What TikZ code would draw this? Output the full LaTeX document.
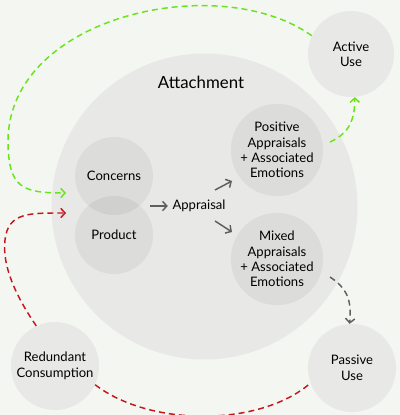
\documentclass[tikz,border=0pt]{standalone}
\usepackage{fontspec}
\setmainfont{Lato}
\usetikzlibrary{arrows.meta}
\definecolor{bgc}{RGB}{244,246,241}
\definecolor{bigc}{RGB}{232,233,230}
\definecolor{greenc}{RGB}{104,228,28}
\definecolor{redc}{RGB}{196,22,28}
\definecolor{grayc}{RGB}{95,95,95}
\tikzset{
  blob/.style={circle,fill=bigc,inner sep=0pt,minimum size=#1,align=center,
    font=\fontsize{9.8}{11.6}\selectfont},
  inblob/.style={circle,fill=black,fill opacity=0.05,text opacity=1,inner sep=0pt,
    minimum size=#1,align=center,font=\fontsize{9.8}{11.6}\selectfont},
  dashline/.style={line width=1.1pt,dash pattern=on 4.5pt off 3pt,#1},
  tip/.style={-{Straight Barb[length=3.2pt,width=7pt]}}
}
\begin{document}
\begin{tikzpicture}[x=0.75pt,y=-0.75pt]
  \fill[bgc] (0,0) rectangle (400,415);
  \useasboundingbox (0,0) rectangle (400,415);
  % circles
  \node[blob=229.5pt] (att) at (204.5,206.5) {};
  \node[font=\fontsize{12.6}{14}\selectfont] (atttitle) at (201,82) {Attachment};
  \node[blob=64.5pt] (active) at (351,54) {Active\\Use};
  \node[blob=66pt] (passive) at (352,368) {Passive\\Use};
  \node[blob=66pt] (redundant) at (55,366) {Redundant\\Consumption};
  \node[inblob=58.5pt] (concerns) at (114,176) {};
  \node[inblob=58.5pt] (product) at (114,235) {};
  \node[font=\fontsize{9.8}{11.6}\selectfont] at (concerns) {Concerns};
  \node[font=\fontsize{9.8}{11.6}\selectfont] at (product) {Product};
  \node[inblob=69pt] (positive) at (277,150) {Positive\\Appraisals\\+ Associated\\Emotions};
  \node[inblob=69pt] (mixed) at (277,259) {Mixed\\Appraisals\\+ Associated\\Emotions};
  \node[font=\fontsize{9.8}{11.6}\selectfont] (appraisal) at (199,206) {Appraisal};
  % solid arrows
  \draw[tip,grayc,line width=1.1pt] (150,206) -- (appraisal.west);
  \draw[tip,grayc,line width=1.1pt] (215,190) -- (232,181);
  \draw[tip,grayc,line width=1.1pt] (215,221) -- (232,232);
  % dashed loops
  \coordinate (greenin) at (66,193);
  \coordinate (redin) at (66,213);
  \draw[dashline=greenc,tip] (active.155) .. controls (220,-30) and (10,15) .. (8,140)
    .. controls (8,188) and (22,193) .. (greenin);
  \draw[dashline=greenc,tip] (330,142) .. controls (345,135) and (355,125) .. (active.-85);
  \draw[dashline=grayc,tip] (330,277) .. controls (345,287) and (352,297) .. (passive.93);
  \draw[dashline=redc] (redundant.-25) .. controls (150,427) and (260,427) .. (passive.-160);
  \draw[dashline=redc,tip] (redundant.115) .. controls (15,295) and (2,265) .. (5,240)
    .. controls (8,212) and (30,213) .. (redin);
\end{tikzpicture}
\end{document}
